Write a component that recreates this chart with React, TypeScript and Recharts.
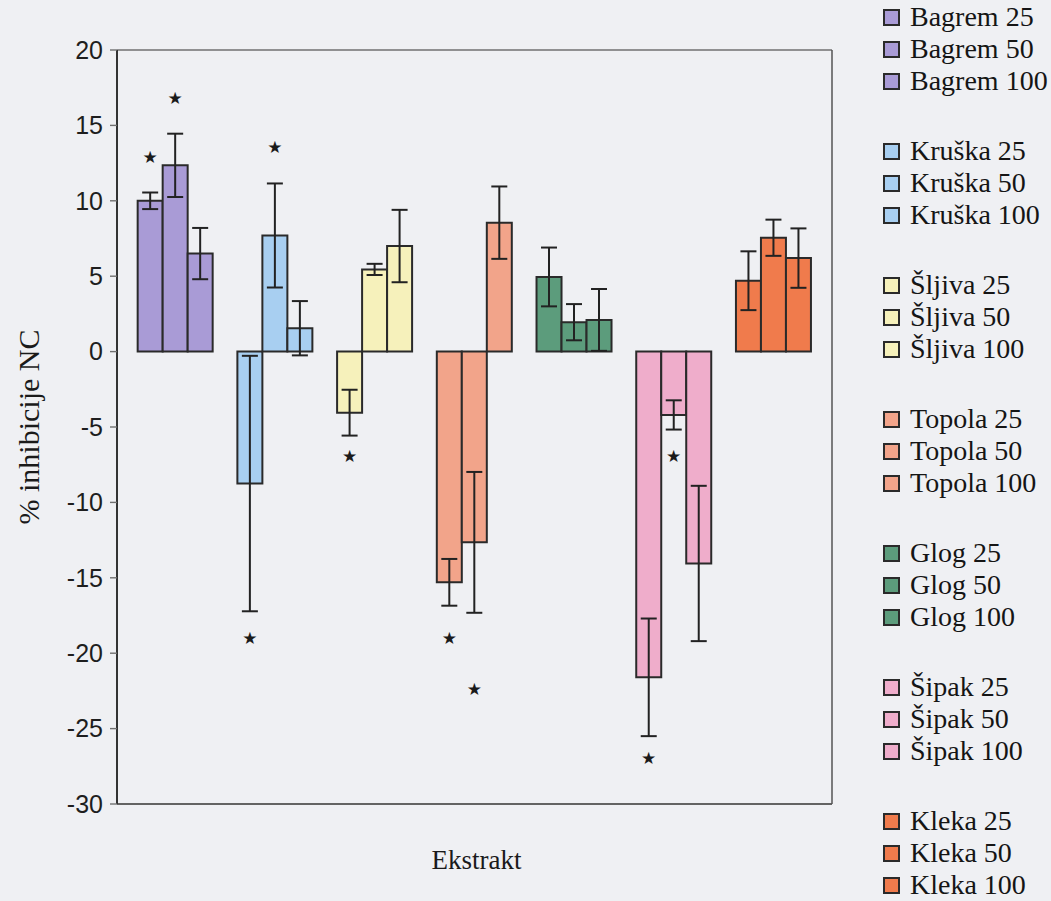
import React from 'react';
import {
  BarChart, Bar, XAxis, YAxis, CartesianGrid, ErrorBar, Cell, Legend, LabelList,
} from 'recharts';

const extracts = ['Bagrem', 'Kruška', 'Šljiva', 'Topola', 'Glog', 'Šipak', 'Kleka'];
const concentrations = ['25', '50', '100'];
const colors = ['#a99bd6', '#a8cff1', '#f6f1bb', '#f2a48a', '#5c9c7c', '#efadcb', '#f07b4c'];

const values25 = [10.0, -8.75, -4.05, -15.3, 4.95, -21.6, 4.7];
const errors25 = [0.55, 8.47, 1.52, 1.55, 1.95, 3.9, 1.95];
const values50 = [12.35, 7.7, 5.45, -12.65, 1.95, -4.2, 7.55];
const errors50 = [2.1, 3.45, 0.37, 4.67, 1.2, 0.97, 1.2];
const values100 = [6.5, 1.55, 7.0, 8.55, 2.1, -14.05, 6.2];
const errors100 = [1.7, 1.8, 2.4, 2.4, 2.05, 5.15, 1.97];

// significance marks (value on the y scale where the star sits)
const stars25 = [12.9, -19.0, -6.93, -18.98, null, -26.97, null];
const stars50 = [16.8, 13.6, null, -22.4, null, -6.94, null];
const stars100 = [null, null, null, null, null, null, null];

const yTicks = [-30, -25, -20, -15, -10, -5, 0, 5, 10, 15, 20];

const data = extracts.map((name, i) => ({
  name,
  v25: values25[i], e25: errors25[i], s25: stars25[i],
  v50: values50[i], e50: errors50[i], s50: stars50[i],
  v100: values100[i], e100: errors100[i], s100: stars100[i],
}));

const serif = '"Liberation Serif", "Times New Roman", serif';
const sans = '"Liberation Sans", Arial, sans-serif';

const makeStar = (vKey: string, sKey: string) => (props: any) => {
  const vb = props.viewBox && props.viewBox.width !== undefined ? props.viewBox : props;
  const index = props.index;
  const d: any = data[index];
  if (!d) return null;
  const v = d[vKey];
  const s = d[sKey];
  if (s === null || s === undefined || !v) return null;
  const x = Number(vb.x);
  const y = Number(vb.y);
  const w = Number(vb.width);
  const h = Number(vb.height);
  const top = Math.min(y, y + h);
  const bottom = Math.max(y, y + h);
  const ppu = (bottom - top) / Math.abs(v);
  const zeroY = v >= 0 ? bottom : top;
  const sy = zeroY - s * ppu;
  return (
    <text
      key={`star-${sKey}-${index}`}
      x={x + w / 2}
      y={sy}
      textAnchor="middle"
      dominantBaseline="central"
      fontSize={17}
      fontFamily='"DejaVu Sans", sans-serif'
      fill="#1a1a1a"
    >
      ★
    </text>
  );
};

const YLabel = (props: any) => {
  const vb = props.viewBox || { x: 0, y: 50, width: 117, height: 754 };
  const cx = vb.x + 28;
  const cy = vb.y + vb.height / 2;
  return (
    <text
      x={cx}
      y={cy}
      transform={`rotate(-90, ${cx}, ${cy})`}
      textAnchor="middle"
      dominantBaseline="central"
      fontFamily={serif}
      fontSize={30}
      fill="#1a1a1a"
    >
      % inhibicije NC
    </text>
  );
};

const XLabel = (props: any) => {
  const vb = props.viewBox || { x: 117, y: 804, width: 715, height: 60 };
  return (
    <text
      x={vb.x + vb.width / 2 + 2}
      y={vb.y + 56}
      textAnchor="middle"
      dominantBaseline="central"
      fontFamily={serif}
      fontSize={27}
      fill="#1a1a1a"
    >
      Ekstrakt
    </text>
  );
};

const LegendContent = () => (
  <div style={{ fontFamily: serif, fontSize: 28, lineHeight: '30px', color: '#151515' }}>
    {extracts.map((ex, gi) => (
      <div key={ex} style={{ height: gi < extracts.length - 1 ? 134 : 96 }}>
        {concentrations.map((c) => (
          <div
            key={c}
            style={{ height: 32, display: 'flex', alignItems: 'center', whiteSpace: 'nowrap' }}
          >
            <span
              style={{
                display: 'inline-block',
                width: 13,
                height: 13,
                border: '2px solid #2a2a2a',
                background: colors[gi],
                marginRight: 10,
                flex: '0 0 auto',
              }}
            />
            <span>{`${ex} ${c}`}</span>
          </div>
        ))}
      </div>
    ))}
  </div>
);

const series = [
  { v: 'v25', e: 'e25', s: 's25' },
  { v: 'v50', e: 'e50', s: 's50' },
  { v: 'v100', e: 'e100', s: 's100' },
];

export default function App() {
  return (
    <div style={{ position: 'absolute', left: 0, top: 0, width: 1051, height: 901, background: '#eff0f3' }}>
      <BarChart
        width={1051}
        height={901}
        data={data}
        margin={{ top: 50, right: 47, bottom: 37, left: 0 }}
        barCategoryGap="11.7%"
        barGap={0}
      >
        <CartesianGrid horizontal vertical={false} stroke="#707070" strokeWidth={1.4} />
        <XAxis
          dataKey="name"
          tick={false}
          tickLine={false}
          axisLine={{ stroke: '#555', strokeWidth: 1.5 }}
          height={60}
          padding={{ left: 9, right: 8 }}
          label={<XLabel />}
        />
        <YAxis
          yAxisId="left"
          domain={[-30, 20]}
          ticks={yTicks}
          interval={0}
          width={117}
          tickSize={7}
          tickMargin={7}
          tickLine={{ stroke: '#707070', strokeWidth: 1.4 }}
          axisLine={{ stroke: '#333', strokeWidth: 2 }}
          tick={{ fontFamily: sans, fontSize: 25, fill: '#1e1e1e' }}
          label={<YLabel />}
        />
        <YAxis
          yAxisId="right"
          orientation="right"
          width={1}
          tick={false}
          tickLine={false}
          axisLine={{ stroke: '#555', strokeWidth: 1.5 }}
        />
        <Legend
          layout="vertical"
          align="right"
          verticalAlign="top"
          wrapperStyle={{ top: 1, left: 883, width: 171 }}
          content={<LegendContent />}
        />
        {series.map((s) => (
          <Bar
            key={s.v}
            yAxisId="left"
            dataKey={s.v}
            stroke="#2a2a2a"
            strokeWidth={2}
            isAnimationActive={false}
          >
            {data.map((d, i) => (
              <Cell key={`${s.v}-${i}`} fill={colors[i]} />
            ))}
            <ErrorBar dataKey={s.e} width={8} stroke="#222" strokeWidth={2} direction="y" />
            <LabelList dataKey={s.v} content={makeStar(s.v, s.s)} />
          </Bar>
        ))}
      </BarChart>
    </div>
  );
}
